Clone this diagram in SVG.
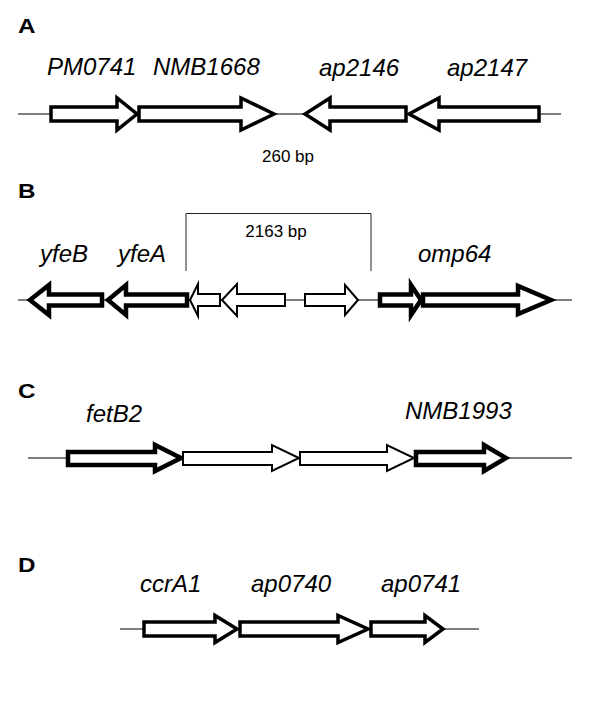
<svg xmlns="http://www.w3.org/2000/svg" width="600" height="714" viewBox="0 0 600 714">
<style>
.bg{fill:#fff}
.panel{font-family:"Liberation Sans",Arial,sans-serif;font-weight:bold;font-size:20px;fill:#000}
.gl{font-family:"Liberation Sans",Arial,sans-serif;font-style:italic;font-size:24px;fill:#000}
.bp{font-family:"Liberation Sans",Arial,sans-serif;font-size:17px;fill:#000}
.line{stroke:#000;stroke-width:1.2;fill:none}
.brk{stroke:#222;stroke-width:1;fill:none}
.g{fill:#fff;stroke:#000;stroke-linejoin:miter;stroke-miterlimit:10}
.m{stroke-width:3.5}
.t{stroke-width:4.5}
.n{stroke-width:2}
</style>
<rect class="bg" x="0" y="0" width="600" height="714"/>
<g id="connectors">
<line class="line" x1="18" y1="114" x2="561" y2="114"/>
<line class="line" x1="18" y1="300" x2="572" y2="300"/>
<line class="line" x1="28" y1="458" x2="572" y2="458"/>
<line class="line" x1="120" y1="629" x2="479" y2="629"/>
<polyline class="brk" points="186,271 186,213.5 371,213.5 371,271"/>
</g>
<g id="labels">
<text class="panel" x="18" y="33" textLength="17.5" lengthAdjust="spacingAndGlyphs">A</text>
<text class="panel" x="18" y="198" textLength="17.5" lengthAdjust="spacingAndGlyphs">B</text>
<text class="panel" x="18" y="398" textLength="17.5" lengthAdjust="spacingAndGlyphs">C</text>
<text class="panel" x="18" y="572" textLength="17.5" lengthAdjust="spacingAndGlyphs">D</text>
<text class="bp" x="288" y="162" text-anchor="middle">260 bp</text>
<text class="bp" x="276" y="237" text-anchor="middle">2163 bp</text>
</g>
<g id="PM0741"><polygon class="g m" points="51,107 117,107 117,98 137,114 117,130 117,121 51,121"/><text class="gl" x="47" y="75">PM0741</text></g>
<g id="NMB1668"><polygon class="g m" points="139,107 241,107 241,98 274,114 241,130 241,121 139,121"/><text class="gl" x="153" y="75">NMB1668</text></g>
<g id="ap2146"><polygon class="g m" points="406,107 330,107 330,98 305,114 330,130 330,121 406,121"/><text class="gl" x="319" y="76">ap2146</text></g>
<g id="ap2147"><polygon class="g m" points="539,107 439,107 439,98 409,114 439,130 439,121 539,121"/><text class="gl" x="447" y="76">ap2147</text></g>
<g id="yfeB"><polygon class="g t" points="102,294.5 49,294.5 49,285 30,300 49,315 49,305.5 102,305.5"/><text class="gl" x="40" y="262">yfeB</text></g>
<g id="yfeA"><polygon class="g t" points="187,294.5 126,294.5 126,285 108,300 126,315 126,305.5 187,305.5"/><text class="gl" x="118" y="262">yfeA</text></g>
<g id="orfB1"><polygon class="g n" points="220,294 198,294 198,284 190,300 198,316 198,306 220,306"/></g>
<g id="orfB2"><polygon class="g n" points="285,294 237,294 237,284 222,300 237,316 237,306 285,306"/></g>
<g id="orfB3"><polygon class="g n" points="305,294 345,294 345,285 358,300 345,315 345,306 305,306"/></g>
<g id="omp64"><polygon class="g t" points="380,294.5 411,294.5 411,285 421,300 411,315 411,305.5 380,305.5"/><polygon class="g t" points="423,294.5 518,294.5 518,286 551,300 518,314 518,305.5 423,305.5"/><text class="gl" x="418" y="262">omp64</text></g>
<g id="fetB2"><polygon class="g t" points="68,452 155,452 155,445 181,458 155,471 155,465 68,465"/><text class="gl" x="86" y="422">fetB2</text></g>
<g id="orfC1"><polygon class="g n" points="183,452 272,452 272,445 299,458 272,471 272,465 183,465"/></g>
<g id="orfC2"><polygon class="g n" points="300,452 387,452 387,445 414,458 387,471 387,465 300,465"/></g>
<g id="NMB1993"><polygon class="g t" points="416,452 484,452 484,445 506,458 484,471 484,465 416,465"/><text class="gl" x="405" y="419">NMB1993</text></g>
<g id="ccrA1"><polygon class="g m" points="144,622 215,622 215,615.5 237,629 215,642.5 215,636 144,636"/><text class="gl" x="140" y="592">ccrA1</text></g>
<g id="ap0740"><polygon class="g m" points="240,622 338,622 338,615.5 368,629 338,642.5 338,636 240,636"/><text class="gl" x="251" y="592">ap0740</text></g>
<g id="ap0741"><polygon class="g m" points="371,622 425,622 425,615.5 443,629 425,642.5 425,636 371,636"/><text class="gl" x="381" y="592">ap0741</text></g>
</svg>
